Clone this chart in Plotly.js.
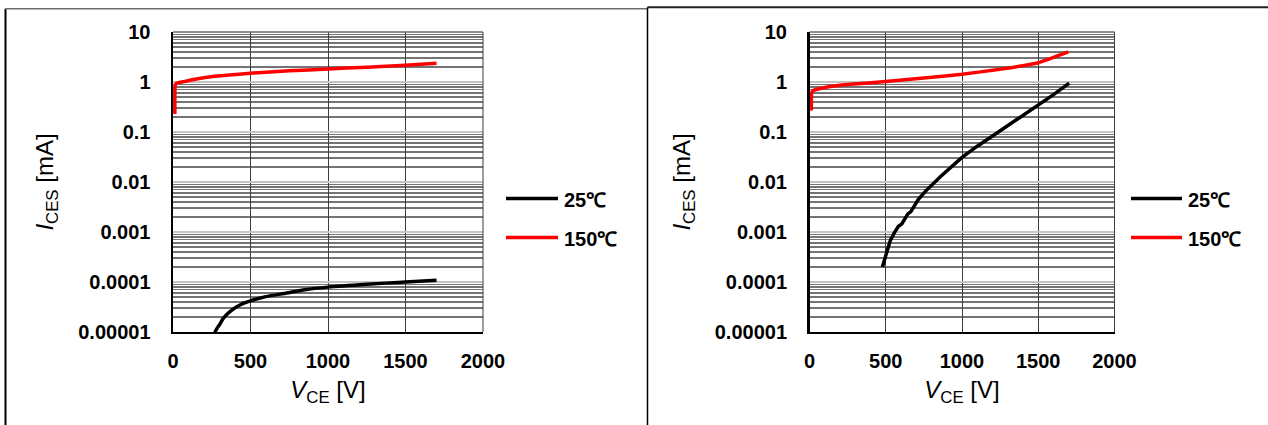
<!DOCTYPE html>
<html>
<head>
<meta charset="utf-8">
<script src="https://cdn.plot.ly/plotly-3.0.1.min.js"></script>
<style>html,body{margin:0;padding:0;background:#fff;}#chart{width:1268px;height:425px;}</style>
</head>
<body>
<div id="chart"></div>
<script>
// ---- data ----
const legendLabels = ['25℃', '150℃'];
// left panel
const vce25Left  = [266, 272, 285, 300, 323, 350, 380, 409, 450, 500, 600, 732, 850, 1000, 1250, 1500, 1700];
const ices25Left = [8.5e-6, 1.0e-5, 1.2e-5, 1.4e-5, 1.85e-5, 2.3e-5, 2.75e-5, 3.16e-5, 3.7e-5, 4.2e-5, 5.1e-5, 6.0e-5, 7.0e-5, 7.9e-5, 9.0e-5, 1.0e-4, 1.08e-4];
const vce150Left  = [12, 12, 14, 20, 40, 76, 150, 270, 500, 750, 1000, 1250, 1500, 1700];
const ices150Left = [0.23, 0.5, 0.85, 0.93, 0.98, 1.03, 1.15, 1.3, 1.5, 1.67, 1.82, 1.98, 2.17, 2.38];
// right panel
const vce25Right  = [478, 490, 500, 515, 530, 555, 583, 605, 625, 645, 665, 690, 714, 760, 856, 1000, 1100, 1205, 1350, 1500, 1600, 1703];
const ices25Right = [2.0e-4, 2.6e-4, 3.5e-4, 5.0e-4, 6.8e-4, 9.5e-4, 1.3e-3, 1.45e-3, 1.9e-3, 2.3e-3, 2.55e-3, 3.4e-3, 4.5e-3, 6.5e-3, 0.0126, 0.031, 0.052, 0.085, 0.17, 0.34, 0.56, 0.95];
const vce150Right  = [12, 12, 14, 20, 70, 150, 266, 500, 750, 1000, 1249, 1350, 1500, 1600, 1697];
const ices150Right = [0.27, 0.45, 0.6, 0.66, 0.74, 0.82, 0.9, 1.02, 1.2, 1.43, 1.8, 2.0, 2.43, 3.1, 4.0];
// ticks
const xTickVals = [0, 500, 1000, 1500, 2000];
const yTickVals = [1e-5, 1e-4, 1e-3, 0.01, 0.1, 1, 10];
const yTickText = ['0.00001', '0.0001', '0.001', '0.01', '0.1', '1', '10'];

// ---- layout helpers ----
const W = 1268, H = 425;
const px = v => v / W;
const py = v => 1 - v / H;
const tickFont = {family: 'Liberation Sans, Arial, sans-serif', size: 20, color: '#000', weight: 'bold'};
const titleFont = {family: 'Liberation Sans, Arial, sans-serif', size: 24, color: '#000'};
const minorVals = [];
for (let d = 0; d < yTickVals.length - 1; d++) {
  for (let k = 2; k <= 9; k++) minorVals.push(yTickVals[d] * k);
}

const colors = {'25': '#000000', '150': '#ff0000'};
const lineW = 3.5;
const traces = [
  {x: vce25Left, y: ices25Left, xaxis: 'x', yaxis: 'y', name: legendLabels[0], mode: 'lines', line: {color: colors['25'], width: lineW, shape: 'spline', smoothing: 0.6}, showlegend: false},
  {x: vce150Left, y: ices150Left, xaxis: 'x', yaxis: 'y', name: legendLabels[1], mode: 'lines', line: {color: colors['150'], width: lineW, shape: 'spline', smoothing: 0.6}, showlegend: false},
  {x: vce25Right, y: ices25Right, xaxis: 'x2', yaxis: 'y2', name: legendLabels[0], mode: 'lines', line: {color: colors['25'], width: lineW}, showlegend: false},
  {x: vce150Right, y: ices150Right, xaxis: 'x2', yaxis: 'y2', name: legendLabels[1], mode: 'lines', line: {color: colors['150'], width: lineW, shape: 'spline', smoothing: 0.6}, showlegend: false}
];

function xAxis(domain, anchor) {
  return {
    domain: domain, anchor: anchor, range: [0, 2000], tickmode: 'array', tickvals: xTickVals,
    ticks: '', ticklabelstandoff: 10, tickfont: tickFont,
    showgrid: true, gridcolor: '#3c3c3c', gridwidth: 1, zeroline: false,
    showline: true, linecolor: '#000', linewidth: 1.5,
    title: {text: '<i>V</i><sub>CE</sub> [V]', font: titleFont, standoff: 10},
    fixedrange: true
  };
}
function yAxis(anchor) {
  return {
    domain: [py(332), py(32)], anchor: anchor, type: 'log', range: [-5, 1],
    tickmode: 'array', tickvals: yTickVals, ticktext: yTickText,
    ticks: '', ticklabelstandoff: 16, tickfont: tickFont,
    showgrid: true, gridcolor: '#c4c4c4', gridwidth: 2.5, zeroline: false,
    minor: {tickmode: 'array', tickvals: minorVals, showgrid: true, gridcolor: '#747474', gridwidth: 1.3, ticks: ''},
    showline: true, linecolor: '#000', linewidth: 2.5,
    title: {text: '<i>I</i><sub>CES</sub> [mA]', font: titleFont, standoff: 18},
    fixedrange: true
  };
}

const shapes = [
  // panel frames
  {type: 'line', xref: 'paper', yref: 'paper', x0: px(5.5), x1: px(5.5), y0: 0, y1: py(8.7), line: {color: '#000', width: 2}},
  {type: 'line', xref: 'paper', yref: 'paper', x0: px(5.5), x1: px(647), y0: py(8.7), y1: py(8.7), line: {color: '#6e6e6e', width: 1.5}},
  {type: 'line', xref: 'paper', yref: 'paper', x0: px(647.5), x1: px(647.5), y0: 0, y1: py(7.3), line: {color: '#000', width: 1.5}},
  {type: 'line', xref: 'paper', yref: 'paper', x0: px(647.5), x1: 1, y0: py(7.3), y1: py(7.3), line: {color: '#222', width: 2}},
  // top / right borders of plots
  {type: 'line', xref: 'x domain', yref: 'y domain', x0: 0, x1: 1, y0: 1, y1: 1, line: {color: '#6a6a6a', width: 1.3}},
  {type: 'line', xref: 'x2 domain', yref: 'y2 domain', x0: 0, x1: 1, y0: 1, y1: 1, line: {color: '#6a6a6a', width: 1.3}},
  {type: 'line', xref: 'x domain', yref: 'y domain', x0: 1, x1: 1, y0: 0, y1: 1, line: {color: '#3c3c3c', width: 1}},
  {type: 'line', xref: 'x2 domain', yref: 'y2 domain', x0: 1, x1: 1, y0: 0, y1: 1, line: {color: '#3c3c3c', width: 1}},
  // reference line at 1 mA in the right panel
  {type: 'line', xref: 'x2 domain', yref: 'y2', x0: 0, x1: 1, y0: 1, y1: 1, line: {color: '#000', width: 2}, layer: 'below'}
];
const annotations = [];
// manual legends
const legendPos = [{x0: 506, x1: 558, tx: 562}, {x0: 1131, x1: 1182, tx: 1186}];
const legendRows = [{y: 198.5, key: '25', label: legendLabels[0]}, {y: 237.5, key: '150', label: legendLabels[1]}];
legendPos.forEach(p => {
  legendRows.forEach(r => {
    shapes.push({type: 'line', xref: 'paper', yref: 'paper', x0: px(p.x0), x1: px(p.x1), y0: py(r.y), y1: py(r.y), line: {color: colors[r.key], width: 3.5}});
    annotations.push({xref: 'paper', yref: 'paper', x: px(p.tx), y: py(r.y + 1), xanchor: 'left', yanchor: 'middle', showarrow: false, text: r.label, font: {family: 'Liberation Sans, Arial, sans-serif', size: 20, color: '#000', weight: 'bold'}});
  });
});

const layout = {
  width: W, height: H, margin: {l: 0, r: 0, t: 0, b: 0},
  paper_bgcolor: '#fff', plot_bgcolor: '#fff', showlegend: false,
  xaxis: xAxis([px(173), px(483)], 'y'),
  yaxis: yAxis('x'),
  xaxis2: xAxis([px(809.5), px(1114.5)], 'y2'),
  yaxis2: yAxis('x2'),
  shapes: shapes, annotations: annotations
};
Plotly.newPlot('chart', traces, layout, {displayModeBar: false, staticPlot: true});
</script>
</body>
</html>
